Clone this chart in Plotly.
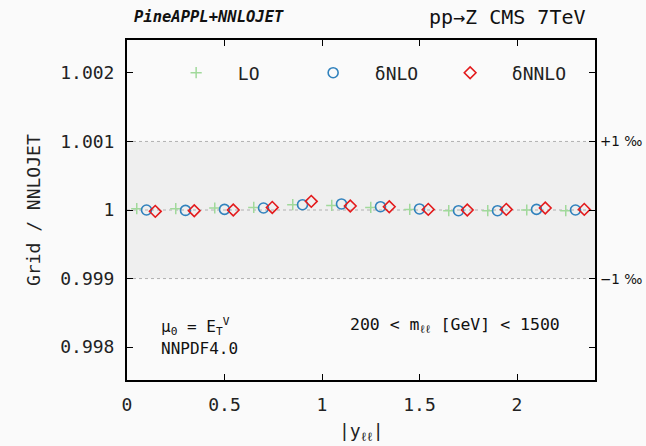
import plotly.graph_objects as go

# ---- data ----
y_bins = [0.1, 0.3, 0.5, 0.7, 0.9, 1.1, 1.3, 1.5, 1.7, 1.9, 2.1, 2.3]
lo_ratio = [1.000019, 1.000019, 1.000029, 1.000038, 1.000077, 1.000067,
            1.000038, 1.000009, 0.999990, 0.999990, 1.000000, 0.999990]
nlo_ratio = [1.000000, 0.999994, 1.000009, 1.000029, 1.000077, 1.000088,
             1.000048, 1.000015, 0.999990, 0.999990, 1.000009, 1.000000]
nnlo_ratio = [0.999980, 0.999990, 1.000000, 1.000038, 1.000126, 1.000058,
              1.000048, 1.000009, 1.000000, 1.000009, 1.000029, 1.000009]
series_names = ["LO", "δNLO", "δNNLO"]
x_tickvals = [0, 0.5, 1, 1.5, 2]
x_ticktext = ["0", "0.5", "1", "1.5", "2"]
y_tickvals = [0.998, 0.999, 1.0, 1.001, 1.002]
y_ticktext = ["0.998", "0.999", "1", "1.001", "1.002"]
band_lo, band_hi = 0.999, 1.001

MONO = "DejaVu Sans Mono"
BG = "#fafafa"
TXT = "#222"
dodge = {"LO": -0.05, "δNLO": 0.0, "δNNLO": 0.045}

fig = go.Figure()

styles = [
    dict(symbol="cross-thin-open", size=8, color="#a1d99b", line=dict(width=1.5, color="#a1d99b")),
    dict(symbol="circle-open", size=10, color="#3182bd", line=dict(width=1.6, color="#3182bd")),
    dict(symbol="diamond-open", size=9, color="#e31a1c", line=dict(width=1.6, color="#e31a1c")),
]
for name, vals, st in zip(series_names, [lo_ratio, nlo_ratio, nnlo_ratio], styles):
    fig.add_trace(go.Scatter(
        x=[b + dodge[name] for b in y_bins], y=vals, mode="markers",
        name="\u00a0\u00a0" + name, marker=st, cliponaxis=False,
    ))

# band and dotted reference lines
fig.add_shape(type="rect", xref="paper", yref="y", x0=0, x1=1, y0=band_lo, y1=band_hi,
              fillcolor="#efefef", line=dict(width=0), layer="below")
for yv in [band_lo, 1.0, band_hi]:
    fig.add_shape(type="line", xref="paper", yref="y", x0=0, x1=1, y0=yv, y1=yv,
                  line=dict(color="#b0b0b0", width=1, dash="dot"), layer="below")

axis_common = dict(showgrid=False, zeroline=False, showline=True, linecolor="black",
                   linewidth=2, ticks="inside", ticklen=6, tickwidth=1, tickcolor="black",
                   mirror="ticks", automargin=False, tickfont=dict(family=MONO, size=18, color=TXT))

fig.update_xaxes(range=[0, 2.4], tickvals=x_tickvals, ticktext=x_ticktext,
                 ticklabelstandoff=7, **axis_common)
fig.update_yaxes(range=[0.99752, 1.00248], tickvals=y_tickvals, ticktext=y_ticktext,
                 ticklabelstandoff=7, **axis_common)

ann = []
ann.append(dict(text="|y<sub>ℓℓ</sub>|", xref="paper", yref="paper", x=0.5, y=0, yshift=-52,
                xanchor="center", yanchor="middle", showarrow=False,
                font=dict(family=MONO, size=18, color=TXT)))
ann.append(dict(text="Grid / NNLOJET", xref="paper", yref="paper", x=0, y=0.5, xshift=-94,
                xanchor="center", yanchor="middle", textangle=-90, showarrow=False,
                font=dict(family=MONO, size=18, color=TXT)))
ann.append(dict(text="<b><i>PineAPPL+NNLOJET</i></b>", xref="paper", yref="paper", x=0.01, y=1.0,
                yshift=23, xanchor="left", yanchor="middle", showarrow=False,
                font=dict(family=MONO, size=15.5, color="#111")))
ann.append(dict(text="pp→Z CMS 7TeV", xref="paper", yref="paper", x=0.985, y=1.0,
                yshift=23, xanchor="right", yanchor="middle", showarrow=False,
                font=dict(family=MONO, size=20, color="#111")))
ann.append(dict(text="μ<sub>0</sub> = E<sub>T</sub><sup>V</sup>", xref="paper", yref="paper",
                x=0.068, y=(380 - 326) / 340, xanchor="left", yanchor="middle", showarrow=False,
                font=dict(family=MONO, size=16, color="#111")))
ann.append(dict(text="NNPDF4.0", xref="paper", yref="paper",
                x=0.068, y=(380 - 348) / 340, xanchor="left", yanchor="middle", showarrow=False,
                font=dict(family=MONO, size=16, color="#111")))
ann.append(dict(text="200 &lt; m<sub>ℓℓ</sub> [GeV] &lt; 1500", xref="paper", yref="paper",
                x=0.93, y=(380 - 325) / 340, xanchor="right", yanchor="middle", showarrow=False,
                font=dict(family=MONO, size=16.5, color="#111")))
for yv, txt in [(band_hi, "+1 ‰"), (band_lo, "−1 ‰")]:
    ann.append(dict(text=txt, xref="paper", yref="y", x=1.0, y=yv, xanchor="left", yanchor="middle",
                    xshift=3, showarrow=False, font=dict(family="DejaVu Sans", size=13.5, color="#111")))

fig.update_layout(
    width=646, height=446,
    margin=dict(l=127, r=51, t=40, b=66, pad=0),
    paper_bgcolor=BG, plot_bgcolor=BG,
    annotations=ann,
    showlegend=True,
    legend=dict(orientation="h", x=0.105, y=(380 - 73) / 340, xanchor="left", yanchor="middle",
                entrywidth=92, entrywidthmode="pixels", bgcolor="rgba(0,0,0,0)",
                font=dict(family=MONO, size=18, color=TXT)),
)

fig.write_html("out.html")
